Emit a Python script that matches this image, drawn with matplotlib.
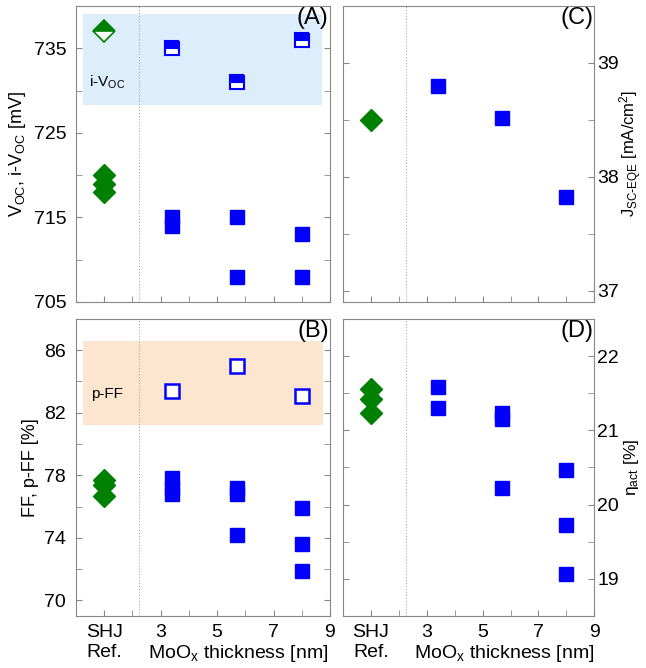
import matplotlib
matplotlib.use("Agg")
import matplotlib.pyplot as plt
from matplotlib.patches import Rectangle
from matplotlib.ticker import MultipleLocator

plt.rcParams["font.family"] = ["Liberation Sans", "DejaVu Sans"]
plt.rcParams["mathtext.default"] = "regular"

# ======================================================
# DATA
# ======================================================

REF_X = 1.0
moox_x = [3.4, 5.7, 8.0]

# (A) Voc / i-Voc [mV]
ref_voc = [720, 719, 718]
ref_ivoc = [737]
moox_voc = [[715, 714], [715, 708], [713, 708]]
moox_ivoc = [735, 731, 736]

# (B) FF / p-FF [%]
ref_ff = [77.7, 77.4, 76.7]
moox_ff = [[77.8, 77.2, 76.8], [77.2, 76.8, 74.2], [75.9, 73.6, 71.9]]
moox_pff = [83.4, 85.0, 83.1]

# (C) Jsc-EQE [mA/cm2]
ref_jsc = [38.5]
moox_jsc = [38.8, 38.52, 37.82]

# (D) eta_act [%]
ref_eta = [21.55, 21.42, 21.24]
moox_eta = [[21.58, 21.3], [21.24, 21.15, 20.22], [20.46, 19.72, 19.07]]

GREEN = "#008000"
BLUE = "#0000ff"
SPINE = "#888888"

fig = plt.figure(figsize=(6.46, 6.68), dpi=100)
axA = fig.add_axes([0.1176, 0.548, 0.3932, 0.443])
axB = fig.add_axes([0.1176, 0.078, 0.3932, 0.4445])
axC = fig.add_axes([0.531, 0.548, 0.389, 0.443])
axD = fig.add_axes([0.531, 0.078, 0.389, 0.4445])


def style(ax, right=False, bottom_labels=False):
    ax.set_xlim(0, 9)
    ax.set_xticks([1, 3, 5, 7, 9])
    ax.set_xticks([2, 4, 6, 8], minor=True)
    for s in ax.spines.values():
        s.set_color(SPINE)
    ax.tick_params(which="both", direction="in", color=SPINE, labelsize=14,
                   left=True, right=True, top=False, length=4)
    if right:
        ax.tick_params(axis="y", labelleft=False, labelright=True, pad=2)
    else:
        ax.tick_params(axis="y", pad=7)
    if bottom_labels:
        ax.set_xticklabels(["SHJ\nRef.", "3", "5", "7", "9"])
        ax.tick_params(axis="x", pad=6)
        ax.set_xlabel("MoO$_x$ thickness [nm]", fontsize=14)
        ax.xaxis.set_label_coords(0.64, -0.09)
    else:
        ax.set_xticklabels([])
    ax.axvline(2.25, color="#aaaaaa", lw=0.8, ls=":", zorder=1)


def scatter_groups(ax, groups, **kw):
    for x, vals in zip(moox_x, groups):
        ax.plot([x] * len(vals), vals, ls="none", **kw)


sq = dict(marker="s", ms=10.5, color=BLUE, mec=BLUE, zorder=3)
dia = dict(marker="D", ms=11, color=GREEN, mec=GREEN, zorder=3)

# ======================================================
# (A)
# ======================================================
style(axA)
axA.set_ylim(705, 740)
axA.set_yticks([705, 715, 725, 735])
axA.yaxis.set_minor_locator(MultipleLocator(5))
axA.add_patch(Rectangle((0.25, 728.3), 8.45, 10.7, color="#dcedfc", zorder=0, lw=0))
axA.text(1.1, 731, "i-V$_{OC}$", fontsize=11, ha="center", va="center")
axA.plot([REF_X] * 3, ref_voc, ls="none", **dia)
axA.plot([REF_X], ref_ivoc, ls="none", marker="D", ms=11, color=GREEN, mec=GREEN,
         fillstyle="top", markerfacecoloralt="white", mew=1.2, zorder=3)
scatter_groups(axA, moox_voc, **sq)
axA.plot(moox_x, moox_ivoc, ls="none", marker="s", ms=10, color=BLUE, mec=BLUE,
         fillstyle="top", markerfacecoloralt="white", mew=1.5, zorder=3)
axA.set_ylabel("V$_{OC}$, i-V$_{OC}$ [mV]", fontsize=13)
axA.text(0.995, 0.995, "(A)", transform=axA.transAxes, ha="right", va="top", fontsize=17)

# ======================================================
# (B)
# ======================================================
style(axB, bottom_labels=True)
axB.set_ylim(69, 88)
axB.set_yticks([70, 74, 78, 82, 86])
axB.yaxis.set_minor_locator(MultipleLocator(2))
axB.add_patch(Rectangle((0.25, 81.2), 8.5, 5.4, color="#fde6cf", zorder=0, lw=0))
axB.text(1.1, 83.2, "p-FF", fontsize=11, ha="center", va="center")
axB.plot([REF_X] * 3, ref_ff, ls="none", **dia)
scatter_groups(axB, moox_ff, **sq)
axB.plot(moox_x, moox_pff, ls="none", marker="s", ms=10, mfc="white", mec=BLUE,
         mew=1.8, zorder=3)
axB.set_ylabel("FF, p-FF [%]", fontsize=13)
axB.text(0.995, 0.995, "(B)", transform=axB.transAxes, ha="right", va="top", fontsize=17)

# ======================================================
# (C)
# ======================================================
style(axC, right=True)
axC.set_ylim(36.9, 39.5)
axC.set_yticks([37, 38, 39])
axC.yaxis.set_minor_locator(MultipleLocator(0.5))
axC.plot([REF_X], ref_jsc, ls="none", **dia)
axC.plot(moox_x, moox_jsc, ls="none", **sq)
fig.text(0.977, 0.77, r"J$_{SC\text{-}EQE}$ [mA/cm$^2$]", fontsize=12,
         rotation=90, ha="center", va="center")
axC.text(0.995, 0.995, "(C)", transform=axC.transAxes, ha="right", va="top", fontsize=17)

# ======================================================
# (D)
# ======================================================
style(axD, right=True, bottom_labels=True)
axD.set_ylim(18.5, 22.5)
axD.set_yticks([19, 20, 21, 22])
axD.yaxis.set_minor_locator(MultipleLocator(0.5))
axD.plot([REF_X] * 3, ref_eta, ls="none", **dia)
scatter_groups(axD, moox_eta, **sq)
fig.text(0.977, 0.3, "η$_{act}$ [%]", fontsize=12.5,
         rotation=90, ha="center", va="center")
axD.text(0.995, 0.995, "(D)", transform=axD.transAxes, ha="right", va="top", fontsize=17)

plt.savefig("out.png", dpi=100)
